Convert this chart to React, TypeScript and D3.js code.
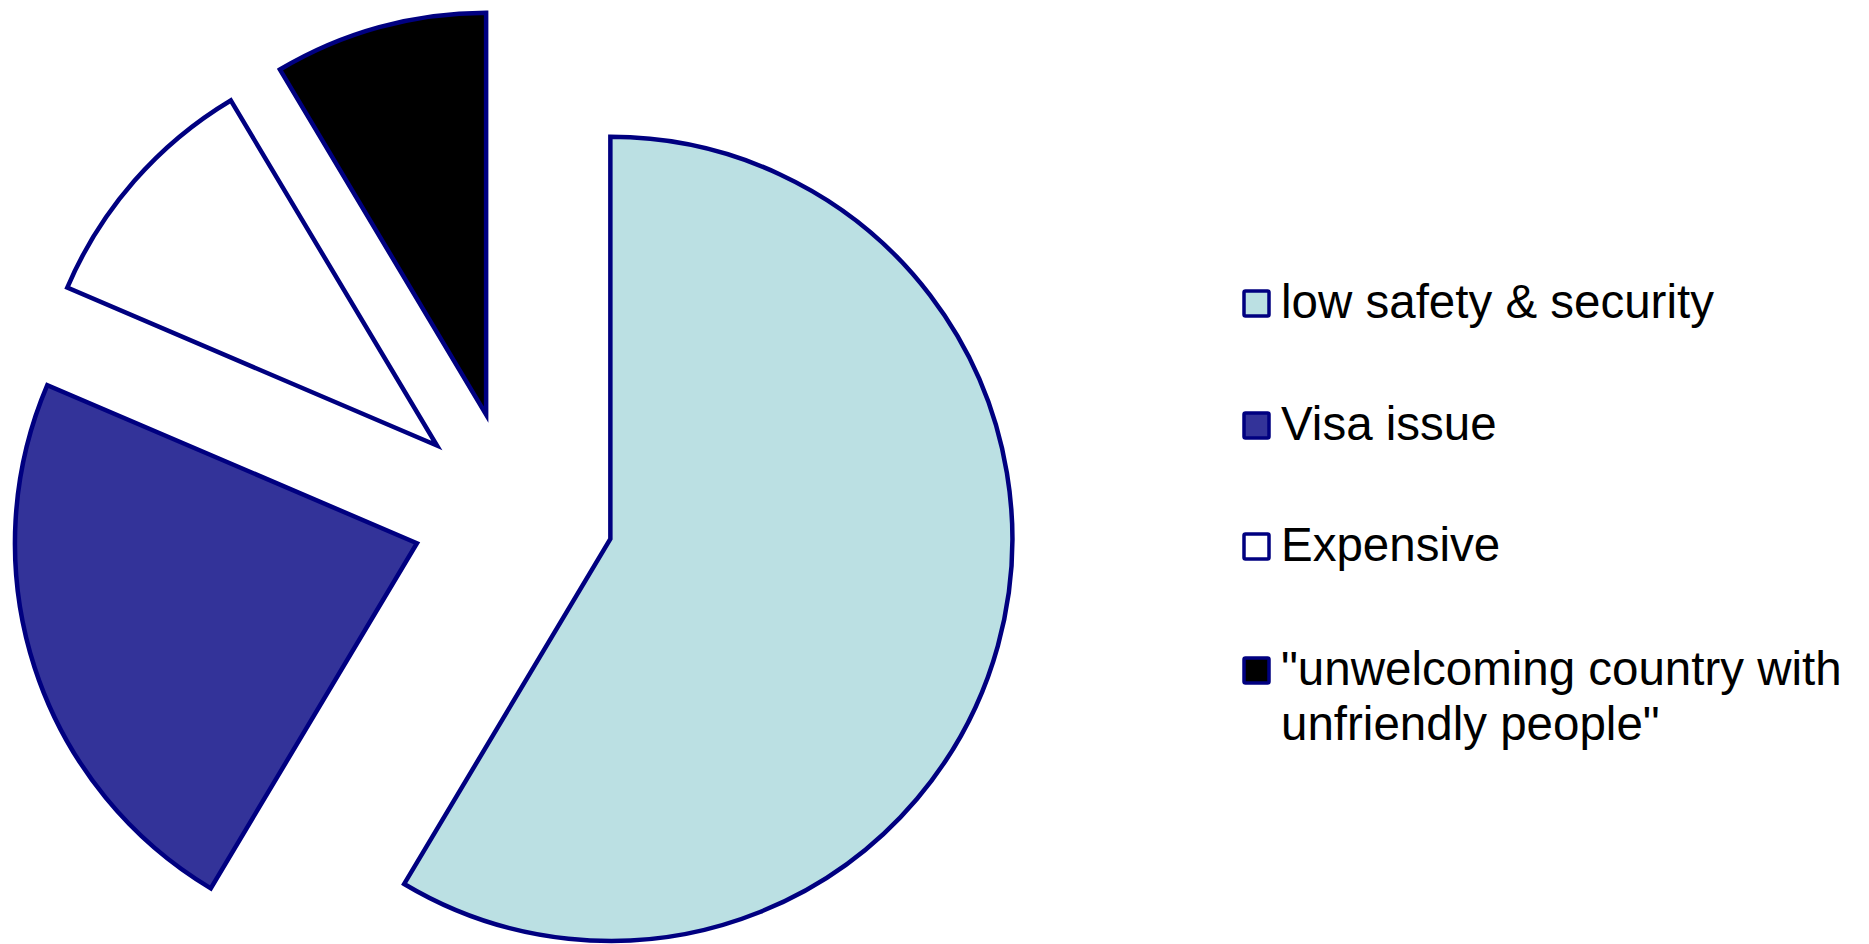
import React from "react";
import * as d3 from "d3";

const categories = [
  "low safety & security",
  "Visa issue",
  "Expensive",
  "\"unwelcoming country with unfriendly people\"",
];
const legendLines = [
  ["low safety & security"],
  ["Visa issue"],
  ["Expensive"],
  ["\"unwelcoming country with", "unfriendly people\""],
];
const values = [41, 16, 7, 6];
const colors = ["#BBE0E3", "#333399", "#FFFFFF", "#000000"];
const strokeColor = "#000080";

const W = 1869;
const H = 944;
const cx = 513;
const cy = 512;
const radius = 402;
const explode = 101;

export default function App() {
  const pie = d3
    .pie<number>()
    .sort(null)
    .value((d) => d)
    .startAngle(0)
    .endAngle(2 * Math.PI);
  const arcs = pie(values);
  const arcGen = d3
    .arc<d3.PieArcDatum<number>>()
    .innerRadius(0)
    .outerRadius(radius);

  const legendX = 1244;
  const legendBaselines = [318, 440, 561, 685];
  const lineH = 55;
  const sq = 25;

  return (
    <svg
      width={W}
      height={H}
      style={{ position: "absolute", left: 0, top: 0, display: "block" }}
    >
      <rect x={0} y={0} width={W} height={H} fill="#fff" />
      {arcs.map((a, i) => {
        const mid = (a.startAngle + a.endAngle) / 2;
        const tx = cx + explode * Math.sin(mid);
        const ty = cy - explode * Math.cos(mid);
        return (
          <path
            key={categories[i]}
            d={arcGen(a) || ""}
            transform={`translate(${tx},${ty})`}
            fill={colors[i]}
            stroke={strokeColor}
            strokeWidth={4.5}
            strokeLinejoin="miter"
          />
        );
      })}
      {legendLines.map((lines, i) => {
        const by = legendBaselines[i];
        return (
          <g key={categories[i]}>
            <rect
              x={legendX}
              y={by - sq - 2}
              width={sq}
              height={sq}
              fill={colors[i]}
              stroke={strokeColor}
              strokeWidth={3.5}
              rx={1.5}
            />
            <text
              x={1281}
              y={by}
              fontFamily="'Liberation Sans', Arial, sans-serif"
              fontSize={47.5}
              fill="#000"
            >
              {lines.map((ln, j) => (
                <tspan key={j} x={1281} y={by + j * lineH}>
                  {ln}
                </tspan>
              ))}
            </text>
          </g>
        );
      })}
    </svg>
  );
}
